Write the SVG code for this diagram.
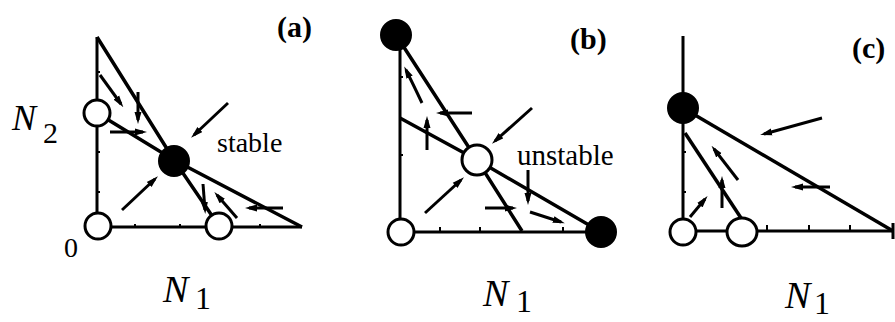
<svg xmlns="http://www.w3.org/2000/svg" width="895" height="322" viewBox="0 0 895 322">
<defs>
<marker id="ah" markerUnits="userSpaceOnUse" markerWidth="12" markerHeight="8" refX="8" refY="4" orient="auto">
<path d="M0,0.5 L12,4 L0,7.5 z" fill="#000"/>
</marker>
<style>
.ax{stroke:#000;stroke-width:3;fill:none}
.tk{stroke:#000;stroke-width:2;fill:none}
.nc{stroke:#000;stroke-width:3.5;fill:none;stroke-linejoin:round}
.ar{stroke:#000;stroke-width:3;fill:none;marker-end:url(#ah)}
.op{fill:#fff;stroke:#000;stroke-width:3}
.fl{fill:#000;stroke:#000;stroke-width:2}
.lbl{font-family:"Liberation Serif","Times New Roman",serif;fill:#000}
.it{font-style:italic}
.bd{font-weight:bold}
</style>
</defs>
<rect width="895" height="322" fill="#fff"/>

<g id="axes">
<!-- panel a -->
<path class="ax" d="M97,37 V227 H302"/>
<path class="tk" d="M97,72 h3 M97,152 h3 M97,192 h3 M135,227 v-3 M180,227 v-3 M260,227 v-3"/>
<!-- panel b -->
<path class="ax" d="M400,35 V232 H601"/>
<path class="tk" d="M400,77 h3 M400,155 h3 M440,232 v-5 M480,232 v-5 M563,232 v-5"/>
<!-- panel c -->
<path class="ax" d="M683,36 V231 H893 M893,223 V239"/>
<path class="tk" d="M683,152 h3 M683,192 h3 M767,231 v-6 M809,231 v-6 M850,231 v-6"/>
</g>

<g id="connectors">
<!-- panel a nullclines -->
<path class="nc" d="M97,37 L174,160 L219,226"/>
<path class="nc" d="M97,113 L174,160 L302,227"/>
<!-- panel a arrows -->
<line class="ar" x1="100" y1="75" x2="121" y2="104"/>
<line class="ar" x1="138" y1="92" x2="138" y2="120"/>
<line class="ar" x1="110" y1="132" x2="143" y2="132"/>
<line class="ar" x1="228" y1="103" x2="194" y2="135"/>
<line class="ar" x1="122" y1="210" x2="155" y2="179"/>
<line class="ar" x1="203" y1="184" x2="205" y2="210"/>
<line class="ar" x1="237" y1="218" x2="217" y2="195"/>
<line class="ar" x1="283" y1="208" x2="249" y2="208"/>

<!-- panel b nullclines -->
<path class="nc" d="M396,35 L477,160 L522,231"/>
<path class="nc" d="M400,118 L477,160 L601,232"/>
<!-- panel b arrows -->
<path class="ar" d="M422,103 Q413,84 406,70"/>
<line class="ar" x1="472" y1="113" x2="440" y2="113"/>
<line class="ar" x1="427" y1="150" x2="427" y2="120"/>
<line class="ar" x1="532" y1="108" x2="495" y2="141"/>
<line class="ar" x1="425" y1="213" x2="461" y2="180"/>
<line class="ar" x1="485" y1="208" x2="513" y2="208"/>
<line class="ar" x1="528" y1="170" x2="528" y2="201"/>
<line class="ar" x1="530" y1="212" x2="561" y2="222"/>

<!-- panel c nullclines -->
<path class="nc" d="M683,108 L893,231"/>
<path class="nc" d="M685,133 L743,221"/>
<!-- panel c arrows -->
<line class="ar" x1="822" y1="118" x2="764" y2="134"/>
<line class="ar" x1="738" y1="180" x2="714" y2="149"/>
<line class="ar" x1="722" y1="208" x2="722" y2="180"/>
<line class="ar" x1="690" y1="217" x2="705" y2="199"/>
<line class="ar" x1="830" y1="187" x2="795" y2="187"/>
</g>

<g id="a-saddle-n2"><circle class="op" cx="97" cy="113" r="13"/></g>
<g id="a-origin"><circle class="op" cx="98" cy="226" r="13"/></g>
<g id="a-saddle-n1"><circle class="op" cx="219" cy="226" r="13"/></g>
<g id="a-stable"><circle class="fl" cx="174" cy="161" r="15"/></g>

<g id="b-stable-n2"><circle class="fl" cx="396" cy="35" r="15"/></g>
<g id="b-origin"><circle class="op" cx="401" cy="232" r="13"/></g>
<g id="b-unstable"><circle class="op" cx="477" cy="160" r="15"/></g>
<g id="b-stable-n1"><circle class="fl" cx="601" cy="232" r="15"/></g>

<g id="c-stable-n2"><circle class="fl" cx="683" cy="108" r="15"/></g>
<g id="c-origin"><circle class="op" cx="683" cy="232" r="13"/></g>
<g id="c-saddle-n1"><ellipse class="op" cx="742" cy="232" rx="15" ry="14"/></g>

<g id="labels">
<text class="lbl bd" x="277" y="37" font-size="30">(a)</text>
<text class="lbl bd" x="570" y="49" font-size="30">(b)</text>
<text class="lbl bd" x="852" y="58" font-size="30">(c)</text>
<text class="lbl" x="217" y="152" font-size="28">stable</text>
<text class="lbl" x="517" y="165" font-size="29">unstable</text>
<text class="lbl it" x="12" y="130" font-size="36">N</text>
<text class="lbl" x="43" y="143" font-size="30">2</text>
<text class="lbl" x="64" y="257" font-size="28">0</text>
<text class="lbl it" x="163" y="302" font-size="38">N</text>
<text class="lbl" x="195" y="309" font-size="32">1</text>
<text class="lbl it" x="483" y="306" font-size="38">N</text>
<text class="lbl" x="516" y="312" font-size="32">1</text>
<text class="lbl it" x="785" y="308" font-size="38">N</text>
<text class="lbl" x="814" y="314" font-size="32">1</text>
</g>
</svg>
